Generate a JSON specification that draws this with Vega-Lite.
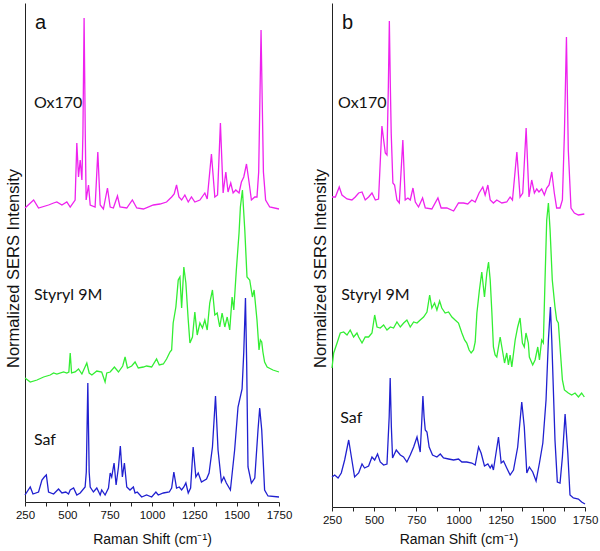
{
  "$schema": "https://vega.github.io/schema/vega-lite/v6.json",
  "padding": {"left": 5, "top": 3, "right": 5, "bottom": 5},
  "bounds": "flush",
  "spacing": 53,
  "config": {
    "view": {"stroke": null},
    "axis": {"domainColor": "#222222", "tickColor": "#222222", "labelColor": "#111111", "titleColor": "#111111", "labelFont": "Liberation Sans", "titleFont": "Liberation Sans", "grid": false}
  },
  "datasets": {
    "spectra": [
      {"panel":"a","dye":"Ox170","shift":250,"intensity":294},{"panel":"a","dye":"Ox170","shift":301,"intensity":302},{"panel":"a","dye":"Ox170","shift":330,"intensity":294},{"panel":"a","dye":"Ox170","shift":389,"intensity":297},{"panel":"a","dye":"Ox170","shift":419,"intensity":299},{"panel":"a","dye":"Ox170","shift":438,"intensity":300},{"panel":"a","dye":"Ox170","shift":468,"intensity":297},{"panel":"a","dye":"Ox170","shift":497,"intensity":300},{"panel":"a","dye":"Ox170","shift":517,"intensity":295},{"panel":"a","dye":"Ox170","shift":546,"intensity":302},{"panel":"a","dye":"Ox170","shift":556,"intensity":359},{"panel":"a","dye":"Ox170","shift":566,"intensity":325},{"panel":"a","dye":"Ox170","shift":576,"intensity":342},{"panel":"a","dye":"Ox170","shift":586,"intensity":322},{"panel":"a","dye":"Ox170","shift":592,"intensity":368},{"panel":"a","dye":"Ox170","shift":599,"intensity":484},{"panel":"a","dye":"Ox170","shift":606,"intensity":368},{"panel":"a","dye":"Ox170","shift":611,"intensity":302},{"panel":"a","dye":"Ox170","shift":625,"intensity":317},{"panel":"a","dye":"Ox170","shift":635,"intensity":297},{"panel":"a","dye":"Ox170","shift":664,"intensity":295},{"panel":"a","dye":"Ox170","shift":680,"intensity":350},{"panel":"a","dye":"Ox170","shift":694,"intensity":297},{"panel":"a","dye":"Ox170","shift":713,"intensity":293},{"panel":"a","dye":"Ox170","shift":737,"intensity":314},{"panel":"a","dye":"Ox170","shift":753,"intensity":295},{"panel":"a","dye":"Ox170","shift":772,"intensity":294},{"panel":"a","dye":"Ox170","shift":796,"intensity":306},{"panel":"a","dye":"Ox170","shift":811,"intensity":295},{"panel":"a","dye":"Ox170","shift":851,"intensity":294},{"panel":"a","dye":"Ox170","shift":884,"intensity":302},{"panel":"a","dye":"Ox170","shift":910,"intensity":294},{"panel":"a","dye":"Ox170","shift":949,"intensity":293},{"panel":"a","dye":"Ox170","shift":1008,"intensity":297},{"panel":"a","dye":"Ox170","shift":1047,"intensity":298},{"panel":"a","dye":"Ox170","shift":1086,"intensity":300},{"panel":"a","dye":"Ox170","shift":1116,"intensity":305},{"panel":"a","dye":"Ox170","shift":1131,"intensity":308},{"panel":"a","dye":"Ox170","shift":1145,"intensity":317},{"panel":"a","dye":"Ox170","shift":1159,"intensity":305},{"panel":"a","dye":"Ox170","shift":1175,"intensity":302},{"panel":"a","dye":"Ox170","shift":1194,"intensity":307},{"panel":"a","dye":"Ox170","shift":1214,"intensity":300},{"panel":"a","dye":"Ox170","shift":1233,"intensity":305},{"panel":"a","dye":"Ox170","shift":1253,"intensity":300},{"panel":"a","dye":"Ox170","shift":1283,"intensity":302},{"panel":"a","dye":"Ox170","shift":1312,"intensity":309},{"panel":"a","dye":"Ox170","shift":1326,"intensity":303},{"panel":"a","dye":"Ox170","shift":1351,"intensity":348},{"panel":"a","dye":"Ox170","shift":1371,"intensity":305},{"panel":"a","dye":"Ox170","shift":1387,"intensity":307},{"panel":"a","dye":"Ox170","shift":1404,"intensity":379},{"panel":"a","dye":"Ox170","shift":1420,"intensity":309},{"panel":"a","dye":"Ox170","shift":1436,"intensity":330},{"panel":"a","dye":"Ox170","shift":1449,"intensity":310},{"panel":"a","dye":"Ox170","shift":1465,"intensity":319},{"panel":"a","dye":"Ox170","shift":1479,"intensity":309},{"panel":"a","dye":"Ox170","shift":1495,"intensity":312},{"panel":"a","dye":"Ox170","shift":1514,"intensity":309},{"panel":"a","dye":"Ox170","shift":1528,"intensity":320},{"panel":"a","dye":"Ox170","shift":1542,"intensity":325},{"panel":"a","dye":"Ox170","shift":1558,"intensity":338},{"panel":"a","dye":"Ox170","shift":1573,"intensity":320},{"panel":"a","dye":"Ox170","shift":1587,"intensity":302},{"panel":"a","dye":"Ox170","shift":1607,"intensity":305},{"panel":"a","dye":"Ox170","shift":1620,"intensity":305},{"panel":"a","dye":"Ox170","shift":1630,"intensity":330},{"panel":"a","dye":"Ox170","shift":1637,"intensity":400},{"panel":"a","dye":"Ox170","shift":1644,"intensity":472},{"panel":"a","dye":"Ox170","shift":1651,"intensity":400},{"panel":"a","dye":"Ox170","shift":1658,"intensity":330},{"panel":"a","dye":"Ox170","shift":1671,"intensity":302},{"panel":"a","dye":"Ox170","shift":1695,"intensity":295},{"panel":"a","dye":"Ox170","shift":1750,"intensity":293},

      {"panel":"a","dye":"Styryl 9M","shift":250,"intensity":124},{"panel":"a","dye":"Styryl 9M","shift":281,"intensity":120},{"panel":"a","dye":"Styryl 9M","shift":321,"intensity":122},{"panel":"a","dye":"Styryl 9M","shift":360,"intensity":125},{"panel":"a","dye":"Styryl 9M","shift":399,"intensity":127},{"panel":"a","dye":"Styryl 9M","shift":419,"intensity":129},{"panel":"a","dye":"Styryl 9M","shift":438,"intensity":128},{"panel":"a","dye":"Styryl 9M","shift":478,"intensity":130},{"panel":"a","dye":"Styryl 9M","shift":497,"intensity":129},{"panel":"a","dye":"Styryl 9M","shift":509,"intensity":130},{"panel":"a","dye":"Styryl 9M","shift":517,"intensity":149},{"panel":"a","dye":"Styryl 9M","shift":525,"intensity":129},{"panel":"a","dye":"Styryl 9M","shift":546,"intensity":130},{"panel":"a","dye":"Styryl 9M","shift":566,"intensity":133},{"panel":"a","dye":"Styryl 9M","shift":586,"intensity":128},{"panel":"a","dye":"Styryl 9M","shift":615,"intensity":139},{"panel":"a","dye":"Styryl 9M","shift":629,"intensity":129},{"panel":"a","dye":"Styryl 9M","shift":645,"intensity":127},{"panel":"a","dye":"Styryl 9M","shift":674,"intensity":131},{"panel":"a","dye":"Styryl 9M","shift":703,"intensity":130},{"panel":"a","dye":"Styryl 9M","shift":723,"intensity":120},{"panel":"a","dye":"Styryl 9M","shift":733,"intensity":129},{"panel":"a","dye":"Styryl 9M","shift":753,"intensity":130},{"panel":"a","dye":"Styryl 9M","shift":778,"intensity":135},{"panel":"a","dye":"Styryl 9M","shift":802,"intensity":130},{"panel":"a","dye":"Styryl 9M","shift":827,"intensity":136},{"panel":"a","dye":"Styryl 9M","shift":841,"intensity":145},{"panel":"a","dye":"Styryl 9M","shift":855,"intensity":134},{"panel":"a","dye":"Styryl 9M","shift":880,"intensity":136},{"panel":"a","dye":"Styryl 9M","shift":900,"intensity":140},{"panel":"a","dye":"Styryl 9M","shift":919,"intensity":134},{"panel":"a","dye":"Styryl 9M","shift":949,"intensity":135},{"panel":"a","dye":"Styryl 9M","shift":968,"intensity":136},{"panel":"a","dye":"Styryl 9M","shift":998,"intensity":135},{"panel":"a","dye":"Styryl 9M","shift":1027,"intensity":143},{"panel":"a","dye":"Styryl 9M","shift":1043,"intensity":137},{"panel":"a","dye":"Styryl 9M","shift":1067,"intensity":138},{"panel":"a","dye":"Styryl 9M","shift":1086,"intensity":143},{"panel":"a","dye":"Styryl 9M","shift":1106,"intensity":150},{"panel":"a","dye":"Styryl 9M","shift":1116,"intensity":152},{"panel":"a","dye":"Styryl 9M","shift":1125,"intensity":179},{"panel":"a","dye":"Styryl 9M","shift":1141,"intensity":195},{"panel":"a","dye":"Styryl 9M","shift":1155,"intensity":222},{"panel":"a","dye":"Styryl 9M","shift":1165,"intensity":225},{"panel":"a","dye":"Styryl 9M","shift":1175,"intensity":194},{"panel":"a","dye":"Styryl 9M","shift":1188,"intensity":235},{"panel":"a","dye":"Styryl 9M","shift":1200,"intensity":219},{"panel":"a","dye":"Styryl 9M","shift":1214,"intensity":182},{"panel":"a","dye":"Styryl 9M","shift":1224,"intensity":159},{"panel":"a","dye":"Styryl 9M","shift":1239,"intensity":165},{"panel":"a","dye":"Styryl 9M","shift":1253,"intensity":190},{"panel":"a","dye":"Styryl 9M","shift":1267,"intensity":167},{"panel":"a","dye":"Styryl 9M","shift":1283,"intensity":179},{"panel":"a","dye":"Styryl 9M","shift":1298,"intensity":174},{"panel":"a","dye":"Styryl 9M","shift":1312,"intensity":182},{"panel":"a","dye":"Styryl 9M","shift":1326,"intensity":172},{"panel":"a","dye":"Styryl 9M","shift":1341,"intensity":199},{"panel":"a","dye":"Styryl 9M","shift":1357,"intensity":212},{"panel":"a","dye":"Styryl 9M","shift":1371,"intensity":187},{"panel":"a","dye":"Styryl 9M","shift":1385,"intensity":189},{"panel":"a","dye":"Styryl 9M","shift":1400,"intensity":175},{"panel":"a","dye":"Styryl 9M","shift":1414,"intensity":189},{"panel":"a","dye":"Styryl 9M","shift":1430,"intensity":175},{"panel":"a","dye":"Styryl 9M","shift":1444,"intensity":185},{"panel":"a","dye":"Styryl 9M","shift":1459,"intensity":172},{"panel":"a","dye":"Styryl 9M","shift":1473,"intensity":205},{"panel":"a","dye":"Styryl 9M","shift":1483,"intensity":192},{"panel":"a","dye":"Styryl 9M","shift":1498,"intensity":232},{"panel":"a","dye":"Styryl 9M","shift":1514,"intensity":269},{"panel":"a","dye":"Styryl 9M","shift":1522,"intensity":295},{"panel":"a","dye":"Styryl 9M","shift":1534,"intensity":312},{"panel":"a","dye":"Styryl 9M","shift":1548,"intensity":272},{"panel":"a","dye":"Styryl 9M","shift":1561,"intensity":225},{"panel":"a","dye":"Styryl 9M","shift":1577,"intensity":222},{"panel":"a","dye":"Styryl 9M","shift":1593,"intensity":205},{"panel":"a","dye":"Styryl 9M","shift":1603,"intensity":212},{"panel":"a","dye":"Styryl 9M","shift":1620,"intensity":182},{"panel":"a","dye":"Styryl 9M","shift":1632,"intensity":152},{"panel":"a","dye":"Styryl 9M","shift":1640,"intensity":162},{"panel":"a","dye":"Styryl 9M","shift":1648,"intensity":160},{"panel":"a","dye":"Styryl 9M","shift":1655,"intensity":150},{"panel":"a","dye":"Styryl 9M","shift":1665,"intensity":140},{"panel":"a","dye":"Styryl 9M","shift":1680,"intensity":135},{"panel":"a","dye":"Styryl 9M","shift":1714,"intensity":132},{"panel":"a","dye":"Styryl 9M","shift":1750,"intensity":130},

      {"panel":"a","dye":"Saf","shift":250,"intensity":7},{"panel":"a","dye":"Saf","shift":281,"intensity":15},{"panel":"a","dye":"Saf","shift":297,"intensity":8},{"panel":"a","dye":"Saf","shift":330,"intensity":10},{"panel":"a","dye":"Saf","shift":350,"intensity":22},{"panel":"a","dye":"Saf","shift":364,"intensity":25},{"panel":"a","dye":"Saf","shift":376,"intensity":27},{"panel":"a","dye":"Saf","shift":389,"intensity":10},{"panel":"a","dye":"Saf","shift":419,"intensity":8},{"panel":"a","dye":"Saf","shift":448,"intensity":13},{"panel":"a","dye":"Saf","shift":468,"intensity":9},{"panel":"a","dye":"Saf","shift":491,"intensity":10},{"panel":"a","dye":"Saf","shift":507,"intensity":8},{"panel":"a","dye":"Saf","shift":517,"intensity":12},{"panel":"a","dye":"Saf","shift":537,"intensity":14},{"panel":"a","dye":"Saf","shift":556,"intensity":7},{"panel":"a","dye":"Saf","shift":576,"intensity":9},{"panel":"a","dye":"Saf","shift":605,"intensity":15},{"panel":"a","dye":"Saf","shift":612,"intensity":30},{"panel":"a","dye":"Saf","shift":621,"intensity":119},{"panel":"a","dye":"Saf","shift":629,"intensity":30},{"panel":"a","dye":"Saf","shift":635,"intensity":15},{"panel":"a","dye":"Saf","shift":654,"intensity":10},{"panel":"a","dye":"Saf","shift":674,"intensity":14},{"panel":"a","dye":"Saf","shift":694,"intensity":7},{"panel":"a","dye":"Saf","shift":703,"intensity":12},{"panel":"a","dye":"Saf","shift":723,"intensity":7},{"panel":"a","dye":"Saf","shift":743,"intensity":14},{"panel":"a","dye":"Saf","shift":753,"intensity":29},{"panel":"a","dye":"Saf","shift":762,"intensity":25},{"panel":"a","dye":"Saf","shift":776,"intensity":39},{"panel":"a","dye":"Saf","shift":788,"intensity":17},{"panel":"a","dye":"Saf","shift":802,"intensity":35},{"panel":"a","dye":"Saf","shift":813,"intensity":56},{"panel":"a","dye":"Saf","shift":825,"intensity":25},{"panel":"a","dye":"Saf","shift":837,"intensity":39},{"panel":"a","dye":"Saf","shift":851,"intensity":15},{"panel":"a","dye":"Saf","shift":870,"intensity":12},{"panel":"a","dye":"Saf","shift":890,"intensity":15},{"panel":"a","dye":"Saf","shift":900,"intensity":9},{"panel":"a","dye":"Saf","shift":913,"intensity":10},{"panel":"a","dye":"Saf","shift":939,"intensity":5},{"panel":"a","dye":"Saf","shift":968,"intensity":7},{"panel":"a","dye":"Saf","shift":998,"intensity":5},{"panel":"a","dye":"Saf","shift":1023,"intensity":10},{"panel":"a","dye":"Saf","shift":1037,"intensity":7},{"panel":"a","dye":"Saf","shift":1067,"intensity":9},{"panel":"a","dye":"Saf","shift":1102,"intensity":10},{"panel":"a","dye":"Saf","shift":1116,"intensity":14},{"panel":"a","dye":"Saf","shift":1129,"intensity":30},{"panel":"a","dye":"Saf","shift":1145,"intensity":14},{"panel":"a","dye":"Saf","shift":1161,"intensity":15},{"panel":"a","dye":"Saf","shift":1175,"intensity":12},{"panel":"a","dye":"Saf","shift":1188,"intensity":15},{"panel":"a","dye":"Saf","shift":1200,"intensity":19},{"panel":"a","dye":"Saf","shift":1214,"intensity":9},{"panel":"a","dye":"Saf","shift":1228,"intensity":14},{"panel":"a","dye":"Saf","shift":1243,"intensity":55},{"panel":"a","dye":"Saf","shift":1259,"intensity":25},{"panel":"a","dye":"Saf","shift":1273,"intensity":29},{"panel":"a","dye":"Saf","shift":1292,"intensity":20},{"panel":"a","dye":"Saf","shift":1322,"intensity":23},{"panel":"a","dye":"Saf","shift":1337,"intensity":29},{"panel":"a","dye":"Saf","shift":1357,"intensity":55},{"panel":"a","dye":"Saf","shift":1375,"intensity":106},{"panel":"a","dye":"Saf","shift":1390,"intensity":52},{"panel":"a","dye":"Saf","shift":1410,"intensity":20},{"panel":"a","dye":"Saf","shift":1424,"intensity":25},{"panel":"a","dye":"Saf","shift":1439,"intensity":19},{"panel":"a","dye":"Saf","shift":1463,"intensity":12},{"panel":"a","dye":"Saf","shift":1488,"intensity":52},{"panel":"a","dye":"Saf","shift":1508,"intensity":95},{"panel":"a","dye":"Saf","shift":1532,"intensity":113},{"panel":"a","dye":"Saf","shift":1542,"intensity":150},{"panel":"a","dye":"Saf","shift":1552,"intensity":204},{"panel":"a","dye":"Saf","shift":1559,"intensity":140},{"panel":"a","dye":"Saf","shift":1567,"intensity":35},{"panel":"a","dye":"Saf","shift":1587,"intensity":19},{"panel":"a","dye":"Saf","shift":1607,"intensity":24},{"panel":"a","dye":"Saf","shift":1626,"intensity":72},{"panel":"a","dye":"Saf","shift":1636,"intensity":94},{"panel":"a","dye":"Saf","shift":1648,"intensity":72},{"panel":"a","dye":"Saf","shift":1665,"intensity":12},{"panel":"a","dye":"Saf","shift":1685,"intensity":6},{"panel":"a","dye":"Saf","shift":1750,"intensity":5},

      {"panel":"b","dye":"Ox170","shift":250,"intensity":310},{"panel":"b","dye":"Ox170","shift":270,"intensity":310},{"panel":"b","dye":"Ox170","shift":293,"intensity":320},{"panel":"b","dye":"Ox170","shift":309,"intensity":312},{"panel":"b","dye":"Ox170","shift":339,"intensity":308},{"panel":"b","dye":"Ox170","shift":368,"intensity":307},{"panel":"b","dye":"Ox170","shift":388,"intensity":310},{"panel":"b","dye":"Ox170","shift":408,"intensity":314},{"panel":"b","dye":"Ox170","shift":428,"intensity":315},{"panel":"b","dye":"Ox170","shift":447,"intensity":307},{"panel":"b","dye":"Ox170","shift":467,"intensity":310},{"panel":"b","dye":"Ox170","shift":487,"intensity":314},{"panel":"b","dye":"Ox170","shift":507,"intensity":307},{"panel":"b","dye":"Ox170","shift":526,"intensity":308},{"panel":"b","dye":"Ox170","shift":546,"intensity":381},{"panel":"b","dye":"Ox170","shift":566,"intensity":354},{"panel":"b","dye":"Ox170","shift":576,"intensity":352},{"panel":"b","dye":"Ox170","shift":584,"intensity":420},{"panel":"b","dye":"Ox170","shift":590,"intensity":486},{"panel":"b","dye":"Ox170","shift":596,"intensity":420},{"panel":"b","dye":"Ox170","shift":601,"intensity":374},{"panel":"b","dye":"Ox170","shift":611,"intensity":324},{"panel":"b","dye":"Ox170","shift":621,"intensity":322},{"panel":"b","dye":"Ox170","shift":635,"intensity":307},{"panel":"b","dye":"Ox170","shift":649,"intensity":304},{"panel":"b","dye":"Ox170","shift":670,"intensity":367},{"panel":"b","dye":"Ox170","shift":684,"intensity":307},{"panel":"b","dye":"Ox170","shift":700,"intensity":309},{"panel":"b","dye":"Ox170","shift":714,"intensity":307},{"panel":"b","dye":"Ox170","shift":730,"intensity":319},{"panel":"b","dye":"Ox170","shift":744,"intensity":305},{"panel":"b","dye":"Ox170","shift":763,"intensity":300},{"panel":"b","dye":"Ox170","shift":787,"intensity":309},{"panel":"b","dye":"Ox170","shift":803,"intensity":299},{"panel":"b","dye":"Ox170","shift":842,"intensity":298},{"panel":"b","dye":"Ox170","shift":878,"intensity":309},{"panel":"b","dye":"Ox170","shift":897,"intensity":299},{"panel":"b","dye":"Ox170","shift":931,"intensity":299},{"panel":"b","dye":"Ox170","shift":971,"intensity":296},{"panel":"b","dye":"Ox170","shift":1000,"intensity":304},{"panel":"b","dye":"Ox170","shift":1030,"intensity":304},{"panel":"b","dye":"Ox170","shift":1055,"intensity":303},{"panel":"b","dye":"Ox170","shift":1079,"intensity":307},{"panel":"b","dye":"Ox170","shift":1099,"intensity":305},{"panel":"b","dye":"Ox170","shift":1122,"intensity":314},{"panel":"b","dye":"Ox170","shift":1144,"intensity":320},{"panel":"b","dye":"Ox170","shift":1158,"intensity":312},{"panel":"b","dye":"Ox170","shift":1174,"intensity":322},{"panel":"b","dye":"Ox170","shift":1188,"intensity":307},{"panel":"b","dye":"Ox170","shift":1207,"intensity":304},{"panel":"b","dye":"Ox170","shift":1227,"intensity":307},{"panel":"b","dye":"Ox170","shift":1257,"intensity":304},{"panel":"b","dye":"Ox170","shift":1286,"intensity":305},{"panel":"b","dye":"Ox170","shift":1306,"intensity":310},{"panel":"b","dye":"Ox170","shift":1320,"intensity":307},{"panel":"b","dye":"Ox170","shift":1346,"intensity":355},{"panel":"b","dye":"Ox170","shift":1365,"intensity":310},{"panel":"b","dye":"Ox170","shift":1381,"intensity":314},{"panel":"b","dye":"Ox170","shift":1401,"intensity":379},{"panel":"b","dye":"Ox170","shift":1418,"intensity":310},{"panel":"b","dye":"Ox170","shift":1434,"intensity":327},{"panel":"b","dye":"Ox170","shift":1450,"intensity":314},{"panel":"b","dye":"Ox170","shift":1464,"intensity":318},{"panel":"b","dye":"Ox170","shift":1477,"intensity":315},{"panel":"b","dye":"Ox170","shift":1493,"intensity":318},{"panel":"b","dye":"Ox170","shift":1509,"intensity":312},{"panel":"b","dye":"Ox170","shift":1523,"intensity":319},{"panel":"b","dye":"Ox170","shift":1537,"intensity":322},{"panel":"b","dye":"Ox170","shift":1553,"intensity":335},{"panel":"b","dye":"Ox170","shift":1568,"intensity":314},{"panel":"b","dye":"Ox170","shift":1582,"intensity":299},{"panel":"b","dye":"Ox170","shift":1602,"intensity":299},{"panel":"b","dye":"Ox170","shift":1616,"intensity":307},{"panel":"b","dye":"Ox170","shift":1628,"intensity":374},{"panel":"b","dye":"Ox170","shift":1640,"intensity":470},{"panel":"b","dye":"Ox170","shift":1651,"intensity":357},{"panel":"b","dye":"Ox170","shift":1667,"intensity":299},{"panel":"b","dye":"Ox170","shift":1687,"intensity":294},{"panel":"b","dye":"Ox170","shift":1711,"intensity":292},{"panel":"b","dye":"Ox170","shift":1746,"intensity":293},

      {"panel":"b","dye":"Styryl 9M","shift":250,"intensity":139},{"panel":"b","dye":"Styryl 9M","shift":260,"intensity":154},{"panel":"b","dye":"Styryl 9M","shift":270,"intensity":159},{"panel":"b","dye":"Styryl 9M","shift":280,"intensity":164},{"panel":"b","dye":"Styryl 9M","shift":299,"intensity":174},{"panel":"b","dye":"Styryl 9M","shift":319,"intensity":175},{"panel":"b","dye":"Styryl 9M","shift":339,"intensity":172},{"panel":"b","dye":"Styryl 9M","shift":358,"intensity":177},{"panel":"b","dye":"Styryl 9M","shift":378,"intensity":170},{"panel":"b","dye":"Styryl 9M","shift":398,"intensity":174},{"panel":"b","dye":"Styryl 9M","shift":408,"intensity":170},{"panel":"b","dye":"Styryl 9M","shift":428,"intensity":164},{"panel":"b","dye":"Styryl 9M","shift":447,"intensity":170},{"panel":"b","dye":"Styryl 9M","shift":467,"intensity":170},{"panel":"b","dye":"Styryl 9M","shift":487,"intensity":174},{"panel":"b","dye":"Styryl 9M","shift":503,"intensity":192},{"panel":"b","dye":"Styryl 9M","shift":517,"intensity":180},{"panel":"b","dye":"Styryl 9M","shift":536,"intensity":179},{"panel":"b","dye":"Styryl 9M","shift":556,"intensity":182},{"panel":"b","dye":"Styryl 9M","shift":576,"intensity":177},{"panel":"b","dye":"Styryl 9M","shift":596,"intensity":180},{"panel":"b","dye":"Styryl 9M","shift":615,"intensity":179},{"panel":"b","dye":"Styryl 9M","shift":635,"intensity":185},{"panel":"b","dye":"Styryl 9M","shift":655,"intensity":180},{"panel":"b","dye":"Styryl 9M","shift":675,"intensity":184},{"panel":"b","dye":"Styryl 9M","shift":694,"intensity":187},{"panel":"b","dye":"Styryl 9M","shift":714,"intensity":180},{"panel":"b","dye":"Styryl 9M","shift":734,"intensity":185},{"panel":"b","dye":"Styryl 9M","shift":754,"intensity":184},{"panel":"b","dye":"Styryl 9M","shift":773,"intensity":187},{"panel":"b","dye":"Styryl 9M","shift":793,"intensity":190},{"panel":"b","dye":"Styryl 9M","shift":813,"intensity":195},{"panel":"b","dye":"Styryl 9M","shift":829,"intensity":212},{"panel":"b","dye":"Styryl 9M","shift":842,"intensity":199},{"panel":"b","dye":"Styryl 9M","shift":858,"intensity":204},{"panel":"b","dye":"Styryl 9M","shift":872,"intensity":197},{"panel":"b","dye":"Styryl 9M","shift":888,"intensity":206},{"panel":"b","dye":"Styryl 9M","shift":901,"intensity":199},{"panel":"b","dye":"Styryl 9M","shift":921,"intensity":194},{"panel":"b","dye":"Styryl 9M","shift":941,"intensity":195},{"panel":"b","dye":"Styryl 9M","shift":961,"intensity":190},{"panel":"b","dye":"Styryl 9M","shift":980,"intensity":187},{"panel":"b","dye":"Styryl 9M","shift":1000,"intensity":184},{"panel":"b","dye":"Styryl 9M","shift":1020,"intensity":174},{"panel":"b","dye":"Styryl 9M","shift":1036,"intensity":167},{"panel":"b","dye":"Styryl 9M","shift":1049,"intensity":164},{"panel":"b","dye":"Styryl 9M","shift":1063,"intensity":157},{"panel":"b","dye":"Styryl 9M","shift":1075,"intensity":154},{"panel":"b","dye":"Styryl 9M","shift":1089,"intensity":157},{"panel":"b","dye":"Styryl 9M","shift":1099,"intensity":165},{"panel":"b","dye":"Styryl 9M","shift":1109,"intensity":194},{"panel":"b","dye":"Styryl 9M","shift":1124,"intensity":217},{"panel":"b","dye":"Styryl 9M","shift":1138,"intensity":235},{"panel":"b","dye":"Styryl 9M","shift":1154,"intensity":210},{"panel":"b","dye":"Styryl 9M","shift":1168,"intensity":234},{"panel":"b","dye":"Styryl 9M","shift":1178,"intensity":245},{"panel":"b","dye":"Styryl 9M","shift":1188,"intensity":227},{"panel":"b","dye":"Styryl 9M","shift":1198,"intensity":194},{"panel":"b","dye":"Styryl 9M","shift":1207,"intensity":160},{"panel":"b","dye":"Styryl 9M","shift":1217,"intensity":152},{"panel":"b","dye":"Styryl 9M","shift":1227,"intensity":150},{"panel":"b","dye":"Styryl 9M","shift":1247,"intensity":170},{"panel":"b","dye":"Styryl 9M","shift":1257,"intensity":160},{"panel":"b","dye":"Styryl 9M","shift":1273,"intensity":144},{"panel":"b","dye":"Styryl 9M","shift":1286,"intensity":154},{"panel":"b","dye":"Styryl 9M","shift":1296,"intensity":142},{"panel":"b","dye":"Styryl 9M","shift":1306,"intensity":152},{"panel":"b","dye":"Styryl 9M","shift":1316,"intensity":140},{"panel":"b","dye":"Styryl 9M","shift":1336,"intensity":167},{"panel":"b","dye":"Styryl 9M","shift":1351,"intensity":180},{"panel":"b","dye":"Styryl 9M","shift":1365,"intensity":189},{"panel":"b","dye":"Styryl 9M","shift":1379,"intensity":164},{"panel":"b","dye":"Styryl 9M","shift":1390,"intensity":160},{"panel":"b","dye":"Styryl 9M","shift":1400,"intensity":174},{"panel":"b","dye":"Styryl 9M","shift":1414,"intensity":164},{"panel":"b","dye":"Styryl 9M","shift":1420,"intensity":150},{"panel":"b","dye":"Styryl 9M","shift":1440,"intensity":142},{"panel":"b","dye":"Styryl 9M","shift":1454,"intensity":147},{"panel":"b","dye":"Styryl 9M","shift":1470,"intensity":160},{"panel":"b","dye":"Styryl 9M","shift":1480,"intensity":147},{"panel":"b","dye":"Styryl 9M","shift":1493,"intensity":167},{"panel":"b","dye":"Styryl 9M","shift":1503,"intensity":164},{"panel":"b","dye":"Styryl 9M","shift":1513,"intensity":227},{"panel":"b","dye":"Styryl 9M","shift":1523,"intensity":287},{"panel":"b","dye":"Styryl 9M","shift":1533,"intensity":304},{"panel":"b","dye":"Styryl 9M","shift":1543,"intensity":277},{"panel":"b","dye":"Styryl 9M","shift":1556,"intensity":227},{"panel":"b","dye":"Styryl 9M","shift":1572,"intensity":200},{"panel":"b","dye":"Styryl 9M","shift":1582,"intensity":187},{"panel":"b","dye":"Styryl 9M","shift":1592,"intensity":184},{"panel":"b","dye":"Styryl 9M","shift":1602,"intensity":160},{"panel":"b","dye":"Styryl 9M","shift":1616,"intensity":127},{"panel":"b","dye":"Styryl 9M","shift":1628,"intensity":117},{"panel":"b","dye":"Styryl 9M","shift":1651,"intensity":114},{"panel":"b","dye":"Styryl 9M","shift":1671,"intensity":112},{"panel":"b","dye":"Styryl 9M","shift":1691,"intensity":114},{"panel":"b","dye":"Styryl 9M","shift":1711,"intensity":110},{"panel":"b","dye":"Styryl 9M","shift":1730,"intensity":114},{"panel":"b","dye":"Styryl 9M","shift":1746,"intensity":110},

      {"panel":"b","dye":"Saf","shift":250,"intensity":30},{"panel":"b","dye":"Saf","shift":266,"intensity":32},{"panel":"b","dye":"Saf","shift":286,"intensity":29},{"panel":"b","dye":"Saf","shift":305,"intensity":34},{"panel":"b","dye":"Saf","shift":325,"intensity":47},{"panel":"b","dye":"Saf","shift":349,"intensity":67},{"panel":"b","dye":"Saf","shift":365,"intensity":50},{"panel":"b","dye":"Saf","shift":384,"intensity":30},{"panel":"b","dye":"Saf","shift":408,"intensity":34},{"panel":"b","dye":"Saf","shift":428,"intensity":43},{"panel":"b","dye":"Saf","shift":443,"intensity":39},{"panel":"b","dye":"Saf","shift":467,"intensity":41},{"panel":"b","dye":"Saf","shift":487,"intensity":50},{"panel":"b","dye":"Saf","shift":503,"intensity":47},{"panel":"b","dye":"Saf","shift":520,"intensity":53},{"panel":"b","dye":"Saf","shift":536,"intensity":45},{"panel":"b","dye":"Saf","shift":556,"intensity":42},{"panel":"b","dye":"Saf","shift":576,"intensity":43},{"panel":"b","dye":"Saf","shift":589,"intensity":90},{"panel":"b","dye":"Saf","shift":595,"intensity":129},{"panel":"b","dye":"Saf","shift":602,"intensity":80},{"panel":"b","dye":"Saf","shift":609,"intensity":49},{"panel":"b","dye":"Saf","shift":631,"intensity":57},{"panel":"b","dye":"Saf","shift":655,"intensity":52},{"panel":"b","dye":"Saf","shift":674,"intensity":50},{"panel":"b","dye":"Saf","shift":694,"intensity":45},{"panel":"b","dye":"Saf","shift":714,"intensity":52},{"panel":"b","dye":"Saf","shift":734,"intensity":60},{"panel":"b","dye":"Saf","shift":754,"intensity":70},{"panel":"b","dye":"Saf","shift":773,"intensity":55},{"panel":"b","dye":"Saf","shift":782,"intensity":85},{"panel":"b","dye":"Saf","shift":789,"intensity":111},{"panel":"b","dye":"Saf","shift":796,"intensity":90},{"panel":"b","dye":"Saf","shift":803,"intensity":77},{"panel":"b","dye":"Saf","shift":813,"intensity":75},{"panel":"b","dye":"Saf","shift":826,"intensity":60},{"panel":"b","dye":"Saf","shift":846,"intensity":52},{"panel":"b","dye":"Saf","shift":872,"intensity":50},{"panel":"b","dye":"Saf","shift":892,"intensity":53},{"panel":"b","dye":"Saf","shift":911,"intensity":49},{"panel":"b","dye":"Saf","shift":941,"intensity":48},{"panel":"b","dye":"Saf","shift":971,"intensity":47},{"panel":"b","dye":"Saf","shift":1000,"intensity":48},{"panel":"b","dye":"Saf","shift":1020,"intensity":45},{"panel":"b","dye":"Saf","shift":1049,"intensity":45},{"panel":"b","dye":"Saf","shift":1079,"intensity":44},{"panel":"b","dye":"Saf","shift":1099,"intensity":42},{"panel":"b","dye":"Saf","shift":1119,"intensity":60},{"panel":"b","dye":"Saf","shift":1134,"intensity":54},{"panel":"b","dye":"Saf","shift":1154,"intensity":41},{"panel":"b","dye":"Saf","shift":1174,"intensity":43},{"panel":"b","dye":"Saf","shift":1188,"intensity":39},{"panel":"b","dye":"Saf","shift":1198,"intensity":42},{"panel":"b","dye":"Saf","shift":1207,"intensity":37},{"panel":"b","dye":"Saf","shift":1237,"intensity":70},{"panel":"b","dye":"Saf","shift":1253,"intensity":44},{"panel":"b","dye":"Saf","shift":1267,"intensity":46},{"panel":"b","dye":"Saf","shift":1286,"intensity":39},{"panel":"b","dye":"Saf","shift":1306,"intensity":32},{"panel":"b","dye":"Saf","shift":1326,"intensity":37},{"panel":"b","dye":"Saf","shift":1351,"intensity":60},{"panel":"b","dye":"Saf","shift":1375,"intensity":105},{"panel":"b","dye":"Saf","shift":1390,"intensity":80},{"panel":"b","dye":"Saf","shift":1405,"intensity":34},{"panel":"b","dye":"Saf","shift":1420,"intensity":40},{"panel":"b","dye":"Saf","shift":1440,"intensity":35},{"panel":"b","dye":"Saf","shift":1460,"intensity":26},{"panel":"b","dye":"Saf","shift":1480,"intensity":44},{"panel":"b","dye":"Saf","shift":1500,"intensity":64},{"panel":"b","dye":"Saf","shift":1519,"intensity":107},{"panel":"b","dye":"Saf","shift":1533,"intensity":167},{"panel":"b","dye":"Saf","shift":1545,"intensity":200},{"panel":"b","dye":"Saf","shift":1553,"intensity":167},{"panel":"b","dye":"Saf","shift":1572,"intensity":67},{"panel":"b","dye":"Saf","shift":1586,"intensity":25},{"panel":"b","dye":"Saf","shift":1602,"intensity":24},{"panel":"b","dye":"Saf","shift":1616,"intensity":50},{"panel":"b","dye":"Saf","shift":1632,"intensity":93},{"panel":"b","dye":"Saf","shift":1648,"intensity":54},{"panel":"b","dye":"Saf","shift":1661,"intensity":12},{"panel":"b","dye":"Saf","shift":1681,"intensity":9},{"panel":"b","dye":"Saf","shift":1711,"intensity":8},{"panel":"b","dye":"Saf","shift":1730,"intensity":5},{"panel":"b","dye":"Saf","shift":1750,"intensity":3}
    ],
    "labels": [
      {"panel":"a","kind":"letter","text":"a","shift":309,"intensity":479},
      {"panel":"a","kind":"dye","text":"Ox170","shift":303,"intensity":399},
      {"panel":"a","kind":"dye","text":"Styryl 9M","shift":303,"intensity":207},
      {"panel":"a","kind":"dye","text":"Saf","shift":303,"intensity":62},
      {"panel":"b","kind":"letter","text":"b","shift":309,"intensity":484},
      {"panel":"b","kind":"dye","text":"Ox170","shift":286,"intensity":404},
      {"panel":"b","kind":"dye","text":"Styryl 9M","shift":305,"intensity":212},
      {"panel":"b","kind":"dye","text":"Saf","shift":299,"intensity":89}
    ]
  },
  "hconcat": [
    {
      "width": 254,
      "height": 499,
      "encoding": {
        "x": {"field": "shift", "type": "quantitative", "scale": {"domain": [250, 1750], "nice": false, "zero": false},
          "axis": {"values": [250,375,500,625,750,875,1000,1125,1250,1375,1500,1625,1750], "format": "d", "labelExpr": "datum.value % 250 === 0 ? datum.label : ''", "title": "Raman Shift (cm⁻¹)", "tickSize": 4, "labelFontSize": 11.5, "labelPadding": 3, "titleFontSize": 14, "titleFontWeight": "normal", "titlePadding": 12, "labelOverlap": false, "labelFlush": false}},
        "y": {"field": "intensity", "type": "quantitative", "scale": {"domain": [0, 499], "nice": false},
          "axis": {"title": "Normalized SERS Intensity", "ticks": false, "labels": false, "titleFontSize": 16.5, "titleFontWeight": "normal", "titlePadding": 4, "titleY": 265}}
      },
      "layer": [
        {"data": {"name": "spectra"}, "transform": [{"filter": "datum.panel === 'a'"}],
         "mark": {"type": "line", "strokeWidth": 1.3},
         "encoding": {"color": {"field": "dye", "type": "nominal", "scale": {"domain": ["Ox170", "Styryl 9M", "Saf"], "range": ["#ee22ee", "#33ee33", "#2020d0"]}, "legend": null}}},
        {"data": {"name": "labels"}, "transform": [{"filter": "datum.panel === 'a' && datum.kind === 'dye'"}],
         "mark": {"type": "text", "align": "left", "baseline": "middle", "font": "Lato", "fontSize": 16, "color": "#111111"},
         "encoding": {"text": {"field": "text"}}},
        {"data": {"name": "labels"}, "transform": [{"filter": "datum.panel === 'a' && datum.kind === 'letter'"}],
         "mark": {"type": "text", "align": "left", "baseline": "middle", "font": "Liberation Sans", "fontSize": 20, "color": "#111111"},
         "encoding": {"text": {"field": "text"}}}
      ]
    },
    {
      "width": 253,
      "height": 504,
      "encoding": {
        "x": {"field": "shift", "type": "quantitative", "scale": {"domain": [250, 1750], "nice": false, "zero": false},
          "axis": {"values": [250,375,500,625,750,875,1000,1125,1250,1375,1500,1625,1750], "format": "d", "labelExpr": "datum.value % 250 === 0 ? datum.label : ''", "title": "Raman Shift (cm⁻¹)", "tickSize": 4, "labelFontSize": 11.5, "labelPadding": 3, "titleFontSize": 14, "titleFontWeight": "normal", "titlePadding": 7, "labelOverlap": false, "labelFlush": false}},
        "y": {"field": "intensity", "type": "quantitative", "scale": {"domain": [0, 504], "nice": false},
          "axis": {"title": "Normalized SERS Intensity", "ticks": false, "labels": false, "titleFontSize": 16.5, "titleFontWeight": "normal", "titlePadding": 4, "titleY": 265}}
      },
      "layer": [
        {"data": {"name": "spectra"}, "transform": [{"filter": "datum.panel === 'b'"}],
         "mark": {"type": "line", "strokeWidth": 1.3},
         "encoding": {"color": {"field": "dye", "type": "nominal", "scale": {"domain": ["Ox170", "Styryl 9M", "Saf"], "range": ["#ee22ee", "#33ee33", "#2020d0"]}, "legend": null}}},
        {"data": {"name": "labels"}, "transform": [{"filter": "datum.panel === 'b' && datum.kind === 'dye'"}],
         "mark": {"type": "text", "align": "left", "baseline": "middle", "font": "Lato", "fontSize": 16, "color": "#111111"},
         "encoding": {"text": {"field": "text"}}},
        {"data": {"name": "labels"}, "transform": [{"filter": "datum.panel === 'b' && datum.kind === 'letter'"}],
         "mark": {"type": "text", "align": "left", "baseline": "middle", "font": "Liberation Sans", "fontSize": 20, "color": "#111111"},
         "encoding": {"text": {"field": "text"}}}
      ]
    }
  ]
}
